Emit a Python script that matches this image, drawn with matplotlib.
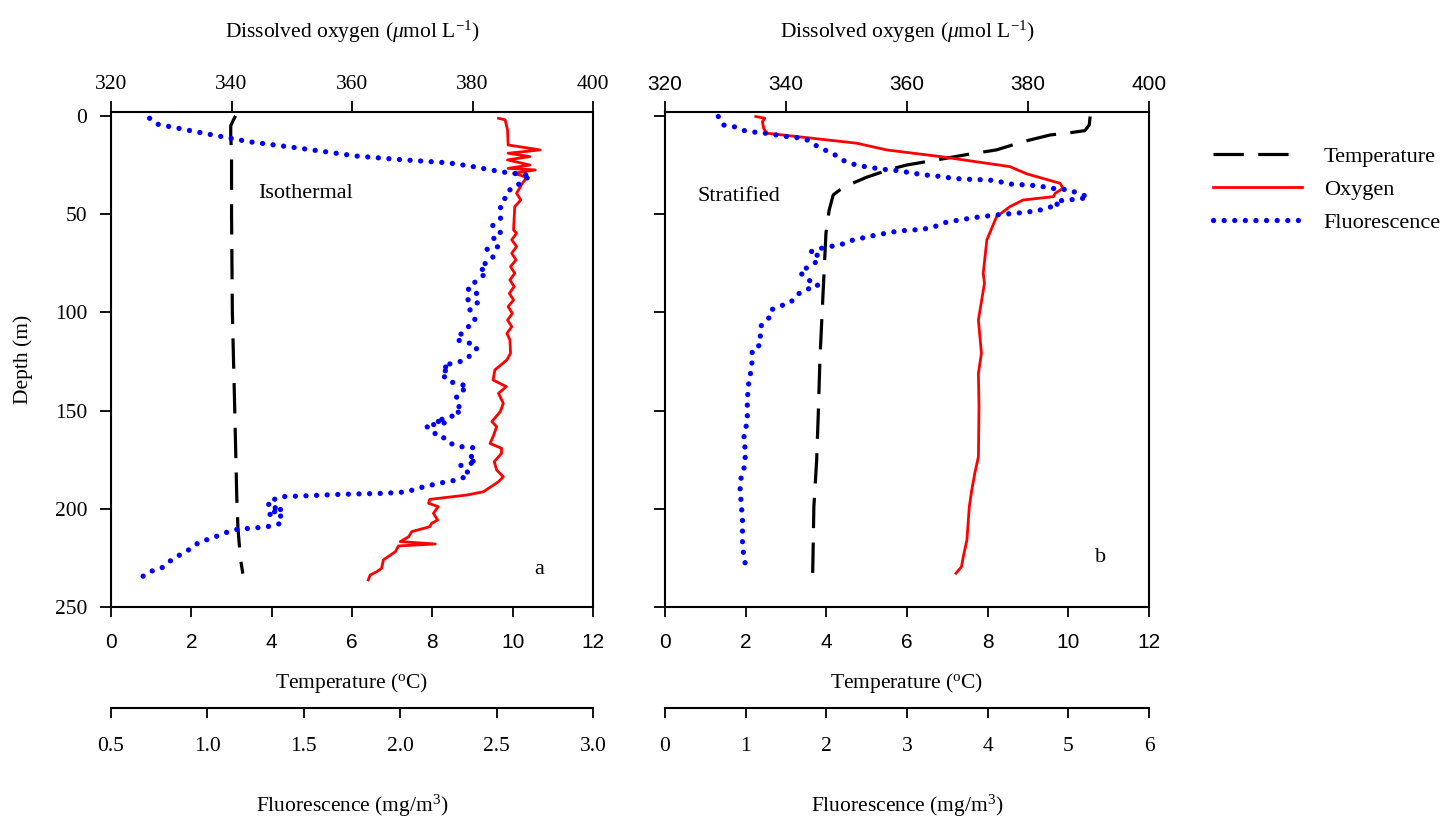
import matplotlib
matplotlib.use("Agg")
import matplotlib.pyplot as plt
from matplotlib.lines import Line2D

plt.rcParams["font.family"] = ["Liberation Serif", "DejaVu Serif"]
plt.rcParams["mathtext.fontset"] = "custom"
plt.rcParams["mathtext.rm"] = "Liberation Serif"
plt.rcParams["mathtext.it"] = "Liberation Serif:italic"

SANS = "Liberation Sans"

# ---- panel a (isothermal) ----
temp_a_depth = [0, 1.5, 5, 10, 20, 50, 100, 150, 194, 210, 225, 233]
temp_a = [3.1, 3.06, 2.98, 2.98, 3.0, 3.0, 3.02, 3.08, 3.13, 3.16, 3.22, 3.28]

oxy_a_depth = [1.2, 2.0, 7.1, 14.8, 17.3, 19.0, 20.7, 22.4, 25.0, 26.7, 27.5, 29.2,
               31.2, 34.6, 39.4, 42.8, 46.2, 58.1, 59.7, 63.1, 66.5, 69.9, 73.3,
               76.7, 80.1, 83.5, 86.9, 90.3, 93.7, 97.1, 100.5, 103.9, 107.3,
               110.7, 114.1, 120.8, 124.2, 129.3, 134.4, 137.8, 141.2, 146.3,
               150.5, 155.6, 158.2, 163.3, 166.7, 169.2, 171.8, 176.0, 180.3,
               183.7, 186.2, 191.3, 193.0, 195.2, 197.2, 198.9, 202.3, 205.7,
               207.4, 209.1, 211.6, 214.2, 216.7, 217.9, 218.9, 221.8, 226.0,
               230.3, 232.0, 233.7, 236.2]
oxy_a = [384.3, 385.4, 385.8, 385.9, 391.2, 385.9, 389.5, 385.8, 389.5, 385.9,
         390.4, 386.8, 389.0, 388.2, 387.3, 388.0, 387.0, 386.8, 387.3, 386.5,
         387.3, 386.5, 387.2, 386.3, 387.0, 386.2, 386.9, 386.1, 386.8, 385.9,
         386.6, 385.8, 386.5, 385.7, 386.2, 386.3, 385.7, 383.7, 383.4, 385.6,
         384.3, 385.1, 384.6, 383.2, 384.0, 383.4, 382.9, 384.8, 384.8, 383.6,
         384.0, 385.1, 384.3, 381.8, 379.0, 372.9, 372.7, 374.3, 373.5, 374.2,
         373.2, 372.9, 369.9, 369.4, 368.0, 373.8, 367.7, 367.2, 365.2, 364.9,
         364.1, 363.0, 362.7]

fluo_a_depth = [1.2, 4.2, 9.2, 13.2, 16.6, 20.4, 22.1, 23.9, 25.5, 28.4, 30.4,
                33.1, 36.3, 38.0, 41.1, 44.8, 52.1, 55.8, 59.2, 61.4, 66.5, 67.9,
                70.3, 72.5, 77.2, 79.6, 85.2, 88.1, 90.0, 93.7, 95.1, 98.4, 104.2,
                109.3, 114.0, 115.2, 118.0, 122.2, 124.6, 127.1, 129.0, 130.5,
                135.3, 136.1, 137.8, 140.0, 142.6, 147.5, 150.2, 151.1, 153.6,
                155.3, 156.1, 157.8, 159.9, 163.3, 164.1, 167.2, 168.4, 168.9,
                172.3, 175.2, 176.2, 178.0, 182.3, 185.0, 187.0, 189.1, 191.4,
                192.1, 192.6, 193.5, 193.8, 195.9, 197.6, 198.6, 200.6, 200.3,
                202.6, 203.7, 206.6, 207.7, 209.1, 209.6, 210.5, 212.0, 215.4,
                216.7, 219.8, 222.3, 225.4, 228.1, 230.3, 232.0, 235.4]
fluo_a = [0.70, 0.74, 1.00, 1.22, 1.49, 1.77, 1.98, 2.25, 2.36, 2.52, 2.68,
          2.63, 2.60, 2.56, 2.55, 2.52, 2.52, 2.48, 2.52, 2.48, 2.51, 2.45,
          2.48, 2.48, 2.41, 2.45, 2.38, 2.35, 2.40, 2.35, 2.40, 2.36, 2.39,
          2.33, 2.29, 2.35, 2.40, 2.36, 2.33, 2.22, 2.26, 2.21, 2.25, 2.30,
          2.35, 2.32, 2.29, 2.31, 2.28, 2.31, 2.25, 2.18, 2.24, 2.13, 2.17,
          2.19, 2.24, 2.27, 2.32, 2.38, 2.38, 2.35, 2.40, 2.31, 2.36, 2.31,
          2.20, 2.11, 2.03, 1.92, 1.70, 1.48, 1.38, 1.33, 1.31, 1.36, 1.34,
          1.39, 1.31, 1.38, 1.39, 1.37, 1.31, 1.26, 1.15, 1.10, 1.01, 0.96,
          0.92, 0.88, 0.82, 0.79, 0.76, 0.70, 0.65]

# ---- panel b (stratified) ----
temp_b_depth = [0.3, 4.6, 7.5, 8.8, 9.7, 13.1, 17.3, 19.4, 22.1, 25.0, 27.2,
                31.2, 36.3, 40.2, 47.9, 59.7, 93.7, 124.2, 151.4, 175.1, 198.9,
                222.7, 232.8]
temp_b = [10.54, 10.52, 10.41, 9.96, 9.55, 8.88, 8.22, 7.56, 6.82, 5.99, 5.58,
          5.00, 4.42, 4.17, 4.07, 3.99, 3.91, 3.84, 3.80, 3.76, 3.69, 3.67, 3.66]

oxy_b_depth = [0.3, 1.2, 2.9, 6.3, 8.8, 13.9, 17.3, 20.7, 25.8, 29.5, 34.3, 36.8,
               39.4, 41.1, 42.8, 46.2, 51.3, 63.1, 80.1, 85.2, 103.9, 120.8,
               131.0, 148.0, 173.5, 182.0, 190.5, 198.9, 215.9, 224.4, 229.5,
               232.8]
oxy_b = [335.0, 336.5, 336.1, 336.3, 336.8, 351.7, 356.6, 365.5, 377.0, 379.8,
         385.3, 385.8, 384.5, 384.2, 379.2, 377.0, 374.8, 373.2, 372.6, 372.8,
         371.8, 372.3, 371.8, 371.9, 371.8, 371.2, 370.7, 370.3, 369.9, 369.3,
         369.0, 368.1]

fluo_b_depth = [0.3, 4.6, 5.4, 7.6, 8.3, 8.8, 9.7, 10.5, 11.0, 12.2, 14.4, 17.0,
                19.0, 22.1, 24.1, 25.5, 26.3, 27.2, 27.5, 28.3, 29.2, 30.0, 30.5,
                31.2, 31.9, 32.2, 32.6, 33.1, 34.6, 35.1, 35.6, 36.8, 37.7, 39.7,
                41.1, 42.4, 42.8, 43.6, 45.8, 46.5, 48.2, 49.2, 50.4, 51.6, 53.3,
                54.3, 56.4, 57.7, 58.4, 59.1, 60.1, 61.1, 62.3, 63.5, 65.7, 66.5,
                67.6, 69.4, 71.3, 73.3, 76.4, 79.3, 83.5, 84.9, 86.9, 88.2, 91.1,
                94.9, 96.6, 98.8, 102.3, 106.9, 112.4, 116.6, 118.8, 124.2, 129.3,
                134.4, 139.5, 144.3, 148.8, 153.9, 159.5, 165.0, 170.2, 175.5,
                179.1, 184.7, 189.2, 195.0, 200.3, 205.7, 211.3, 216.9, 221.8,
                227.3, 231.3]
fluo_b = [0.66, 0.72, 0.85, 0.99, 1.12, 1.24, 1.38, 1.51, 1.63, 1.76, 1.84,
          1.96, 2.08, 2.18, 2.29, 2.43, 2.56, 2.69, 2.82, 2.95, 3.08, 3.21,
          3.35, 3.47, 3.61, 3.73, 4.00, 4.12, 4.25, 4.45, 4.64, 4.77, 5.03,
          5.12, 5.25, 5.14, 4.97, 4.83, 4.88, 4.75, 4.63, 4.44, 4.11, 3.86,
          3.60, 3.47, 3.34, 3.20, 2.95, 2.82, 2.69, 2.56, 2.43, 2.30, 2.17,
          2.04, 1.91, 1.79, 1.91, 1.91, 1.80, 1.67, 1.76, 1.89, 1.89, 1.76,
          1.63, 1.56, 1.44, 1.31, 1.30, 1.19, 1.18, 1.18, 1.08, 1.08, 1.07,
          1.04, 1.03, 1.02, 1.02, 1.02, 1.00, 0.97, 1.00, 0.99, 0.98, 0.94,
          0.93, 0.94, 0.95, 0.96, 0.96, 0.96, 0.97, 0.99, 1.06]

depth_ticks = [0, 50, 100, 150, 200, 250]
temp_ticks = [0, 2, 4, 6, 8, 10, 12]
oxy_ticks = [320, 340, 360, 380, 400]
fluo_a_ticks = [0.5, 1.0, 1.5, 2.0, 2.5, 3.0]
fluo_b_ticks = [0, 1, 2, 3, 4, 5, 6]

TEMP_STYLE = dict(color="black", lw=2.3, ls=(0, (9.5, 4.5)))
OXY_STYLE = dict(color="#ff0000", lw=2.0, ls="-")
FLUO_STYLE = dict(color="#0000ff", lw=3.8, ls=(0, (0.01, 2.0)),
                  dash_capstyle="round")

LABEL_FS = 15.5
SERIF_TICK_FS = 15.5
SANS_TICK_FS = 15


def draw_panel(rect, t_d, t, o_d, o, f_d, f, f_ticks, f_fmt,
               top_font, note, note_xy, letter, letter_xy, first):
    ax = fig.add_axes(rect)
    ax.plot(t, t_d, **TEMP_STYLE)
    ax.set_xlim(0, 12)
    ax.set_ylim(250, -2)
    ax.set_yticks(depth_ticks)
    ax.set_xticks(temp_ticks, [str(v) for v in temp_ticks],
                  fontfamily=SANS, fontsize=SANS_TICK_FS)
    ax.tick_params(axis="x", direction="out", length=7, width=1.3, pad=12)
    ax.tick_params(axis="y", direction="out", length=8, width=1.3, pad=9,
                   labelsize=SERIF_TICK_FS, labelleft=first)
    ax.spines["top"].set_visible(False)
    for s in ("left", "right", "bottom"):
        ax.spines[s].set_linewidth(1.5)
    ax.set_xlabel("Temperature ($^{\\rm o}$C)", fontsize=LABEL_FS)
    ax.xaxis.set_label_coords(0.5, -0.13)
    if first:
        ax.set_ylabel("Depth (m)", fontsize=LABEL_FS)
        ax.yaxis.set_label_coords(-0.162, 0.5)
    ax.text(*note_xy, note, fontsize=16, ha="center", va="center")
    ax.text(*letter_xy, letter, fontsize=16, ha="center", va="center")

    # dissolved oxygen on top
    ax_o = ax.twiny()
    ax_o.plot(o, o_d, **OXY_STYLE)
    ax_o.set_xlim(320, 400)
    ax_o.set_xticks(oxy_ticks, [str(v) for v in oxy_ticks],
                    fontfamily=top_font,
                    fontsize=SANS_TICK_FS if top_font == SANS else SERIF_TICK_FS)
    ax_o.tick_params(axis="x", direction="out", length=8, width=1.3, pad=5)
    for s in ("left", "right", "bottom"):
        ax_o.spines[s].set_visible(False)
    ax_o.spines["top"].set_linewidth(1.5)
    ax_o.set_xlabel("Dissolved oxygen ($\\mu$mol L$^{-1}$)", fontsize=LABEL_FS)
    ax_o.xaxis.set_label_coords(0.5, 1.15)

    # fluorescence on a detached bottom axis
    ax_f = ax.twiny()
    ax_f.plot(f, f_d, **FLUO_STYLE)
    ax_f.set_xlim(f_ticks[0], f_ticks[-1])
    ax_f.xaxis.set_ticks_position("bottom")
    ax_f.xaxis.set_label_position("bottom")
    for s in ("left", "right", "top"):
        ax_f.spines[s].set_visible(False)
    ax_f.spines["bottom"].set_position(("outward", 72.5))
    ax_f.spines["bottom"].set_linewidth(1.5)
    ax_f.set_xticks(f_ticks, [f_fmt.format(v) for v in f_ticks],
                    fontsize=SERIF_TICK_FS)
    ax_f.tick_params(axis="x", direction="out", length=7, width=1.3, pad=14)
    ax_f.set_xlabel("Fluorescence (mg/m$^3$)", fontsize=LABEL_FS)
    ax_f.xaxis.set_label_coords(0.5, -0.375)
    return ax


fig = plt.figure(figsize=(14.42, 8.24), dpi=100)

draw_panel([0.0770, 0.2633, 0.3343, 0.6008], temp_a_depth, temp_a,
           oxy_a_depth, oxy_a, fluo_a_depth, fluo_a, fluo_a_ticks, "{:.1f}",
           "Liberation Serif", "Isothermal", (4.85, 39.7), "a", (10.65, 231),
           True)
draw_panel([0.4612, 0.2633, 0.3356, 0.6008], temp_b_depth, temp_b,
           oxy_b_depth, oxy_b, fluo_b_depth, fluo_b, fluo_b_ticks, "{:d}",
           SANS, "Stratified", (1.83, 41), "b", (10.81, 225), False)

handles = [Line2D([], [], **TEMP_STYLE), Line2D([], [], **OXY_STYLE),
           Line2D([], [], **FLUO_STYLE)]
fig.legend(handles, ["Temperature", "Oxygen", "Fluorescence"],
           loc="upper left", bbox_to_anchor=(0.841, 0.822), frameon=False,
           fontsize=16, handlelength=4.0, handletextpad=1.0,
           labelspacing=0.55, borderaxespad=0, borderpad=0)

fig.savefig("out.png", dpi=100)
